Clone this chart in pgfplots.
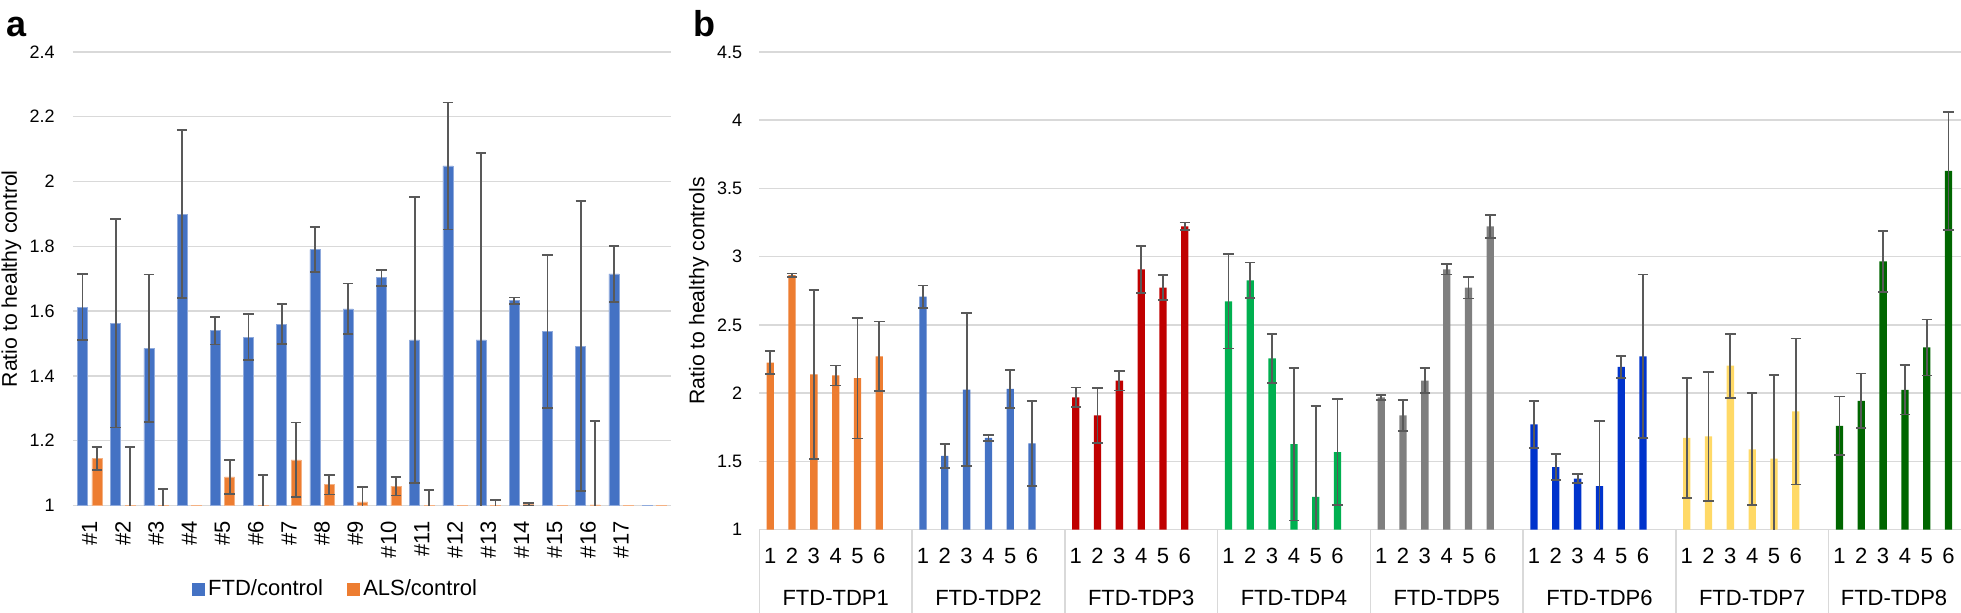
\documentclass[border=0pt]{standalone}
\usepackage{fontspec}
\setmainfont{Liberation Sans}
\usepackage{pgfplots}
\pgfplotsset{compat=1.18}
\definecolor{ftdblue}{HTML}{4472C4}
\definecolor{alsorange}{HTML}{ED7D31}
\definecolor{tdpred}{HTML}{C00000}
\definecolor{tdpgreen}{HTML}{00B050}
\definecolor{tdpgray}{HTML}{7F7F7F}
\definecolor{tdpblue}{HTML}{0033CC}
\definecolor{tdpyellow}{HTML}{FFD966}
\definecolor{tdpdkgreen}{HTML}{006600}
\definecolor{gridgray}{HTML}{D9D9D9}
\definecolor{errgray}{HTML}{595959}
\pgfplotsset{
  errstyle/.style={
    error bars/y dir=both,
    error bars/y explicit,
    error bars/error bar style={errgray, line width=0.9pt},
    error bars/error mark options={rotate=90, errgray, mark size=2.6pt, line width=0.9pt}},
  common/.style={
    scale only axis,
    axis x line*=bottom, axis y line*=left,
    y axis line style={draw=none},
    x axis line style={gridgray, line width=0.75pt},
    ymajorgrids, grid style={gridgray, line width=0.75pt},
    major tick length=0pt,
    /pgf/number format/assume math mode=true,
    yticklabel style={font=\fontsize{9}{11}\selectfont, anchor=east, inner sep=0pt},
  },
}
\begin{document}
\begin{tikzpicture}
% ---------------- panel a ----------------
\begin{axis}[common,
  at={(36.5pt,53.25pt)}, anchor=south west,
  width=299pt, height=226.8pt,
  xmin=0.5, xmax=18.5, ymin=1, ymax=2.4,
  ytick={1,1.2,1.4,1.6,1.8,2,2.2,2.4},
  yticklabel style={xshift=-9pt},
  xtick={1,...,17},
  xticklabels={\#1,\#2,\#3,\#4,\#5,\#6,\#7,\#8,\#9,\#10,\#11,\#12,\#13,\#14,\#15,\#16,\#17},
  xticklabel style={yshift=-7.75pt, rotate=90, anchor=east, inner sep=0pt, font=\fontsize{11}{13}\selectfont},
  ylabel={Ratio to healthy control},
  every axis y label/.style={at={(axis description cs:0,0.5)}, xshift=-30.8pt, rotate=90, anchor=center, font=\fontsize{10.6}{12}\selectfont},
  legend columns=2,
  legend style={at={(axis description cs:0.4406,-0.185)}, anchor=center, draw=none, fill=none,
    font=\fontsize{11}{13}\selectfont, /tikz/every even column/.append style={column sep=10pt}},
]
\addplot[ybar, bar width=5pt, bar shift=0pt, fill=ftdblue, draw=ftdblue!60!white, line width=0.3pt, errstyle,
  legend image code/.code={\fill[ftdblue] (0pt,-2.9pt) rectangle (5.8pt,2.9pt);}]
 coordinates {
 (0.7833,1.612) +- (0,0.102)
 (1.7833,1.563) +- (0,0.322)
 (2.7833,1.485) +- (0,0.228)
 (3.7833,1.899) +- (0,0.259)
 (4.7833,1.540) +- (0,0.043)
 (5.7833,1.520) +- (0,0.071)
 (6.7833,1.560) +- (0,0.062)
 (7.7833,1.790) +- (0,0.070)
 (8.7833,1.607) +- (0,0.078)
 (9.7833,1.703) +- (0,0.025)
 (10.7833,1.511) +- (0,0.442)
 (11.7833,2.048) +- (0,0.196)
 (12.7833,1.511) +- (0,0.577)
 (13.7833,1.632) +- (0,0.010)
 (14.7833,1.537) +- (0,0.237)
 (15.7833,1.492) +- (0,0.447)
 (16.7833,1.715) +- (0,0.086)
 (17.7833,0.995) +- (0,0)
 };
\addlegendentry{FTD/control}
\addplot[ybar, bar width=5pt, bar shift=0pt, fill=alsorange, draw=alsorange!60!white, line width=0.3pt, errstyle,
  legend image code/.code={\fill[alsorange] (0pt,-2.9pt) rectangle (5.8pt,2.9pt);}]
 coordinates {
 (1.2167,1.145) +- (0,0.036)
 (2.2167,0.995) +- (0,0.186)
 (3.2167,0.995) +- (0,0.056)
 (4.2167,0.995) +- (0,0)
 (5.2167,1.088) +- (0,0.053)
 (6.2167,0.995) +- (0,0.098)
 (7.2167,1.141) +- (0,0.115)
 (8.2167,1.064) +- (0,0.030)
 (9.2167,1.011) +- (0,0.047)
 (10.2167,1.060) +- (0,0.029)
 (11.2167,0.995) +- (0,0.053)
 (12.2167,0.995) +- (0,0)
 (13.2167,0.998) +- (0,0.019)
 (14.2167,1.003) +- (0,0.004)
 (15.2167,0.995) +- (0,0)
 (16.2167,1.002) +- (0,0.260)
 (17.2167,0.995) +- (0,0)
 (18.2167,0.995) +- (0,0)
 };
\addlegendentry{ALS/control}
\end{axis}
% ---------------- panel b ----------------
\begin{axis}[common,
  at={(379.65pt,41.15pt)}, anchor=south west,
  width=600.85pt, height=238.9pt,
  xmin=-0.5, xmax=54.57, ymin=1, ymax=4.5,
  ytick={1,1.5,2,2.5,3,3.5,4,4.5},
  yticklabel style={xshift=-8.4pt},
  xtick={0,...,54},
  xticklabels={1,2,3,4,5,6,,1,2,3,4,5,6,,1,2,3,4,5,6,,1,2,3,4,5,6,,1,2,3,4,5,6,,1,2,3,4,5,6,,1,2,3,4,5,6,,1,2,3,4,5,6},
  xticklabel style={anchor=center, yshift=-13.15pt, font=\fontsize{11}{13}\selectfont},
  minor xtick={-0.5,6.5,13.5,20.5,27.5,34.5,41.5,48.5},
  tick align=outside,
  minor tick length=90pt,
  minor tick style={gridgray, line width=0.75pt},
  extra x ticks={3,10,17,24,31,38,45,51.5},
  extra x tick labels={FTD-TDP1,FTD-TDP2,FTD-TDP3,FTD-TDP4,FTD-TDP5,FTD-TDP6,FTD-TDP7,FTD-TDP8},
  extra x tick style={major tick length=0pt, xticklabel style={yshift=-21pt}},
  ylabel={Ratio to healthy controls},
  every axis y label/.style={at={(axis description cs:0,0.5)}, xshift=-30.15pt, rotate=90, anchor=center, font=\fontsize{10.6}{12}\selectfont},
]
\addplot[ybar, bar width=3.65pt, bar shift=0pt, fill=alsorange, draw=none, errstyle] coordinates {
 (0,2.224) +- (0,0.083) (1,2.864) +- (0,0.013) (2,2.138) +- (0,0.619)
 (3,2.130) +- (0,0.073) (4,2.110) +- (0,0.442) (5,2.270) +- (0,0.255) };
\addplot[ybar, bar width=3.65pt, bar shift=0pt, fill=ftdblue, draw=none, errstyle] coordinates {
 (7,2.707) +- (0,0.082) (8,1.540) +- (0,0.086) (9,2.027) +- (0,0.562)
 (10,1.672) +- (0,0.020) (11,2.032) +- (0,0.140) (12,1.632) +- (0,0.312) };
\addplot[ybar, bar width=3.65pt, bar shift=0pt, fill=tdpred, draw=none, errstyle] coordinates {
 (14,1.969) +- (0,0.072) (15,1.838) +- (0,0.202) (16,2.092) +- (0,0.072)
 (17,2.907) +- (0,0.172) (18,2.773) +- (0,0.090) (19,3.222) +- (0,0.029) };
\addplot[ybar, bar width=3.65pt, bar shift=0pt, fill=tdpgreen, draw=none, errstyle] coordinates {
 (21,2.673) +- (0,0.345) (22,2.827) +- (0,0.130) (23,2.255) +- (0,0.178)
 (24,1.626) +- (0,0.559) (25,1.240) +- (0,0.666) (26,1.569) +- (0,0.388) };
\addplot[ybar, bar width=3.65pt, bar shift=0pt, fill=tdpgray, draw=none, errstyle] coordinates {
 (28,1.969) +- (0,0.017) (29,1.838) +- (0,0.115) (30,2.092) +- (0,0.092)
 (31,2.907) +- (0,0.037) (32,2.773) +- (0,0.080) (33,3.222) +- (0,0.086) };
\addplot[ybar, bar width=3.65pt, bar shift=0pt, fill=tdpblue, draw=none, errstyle] coordinates {
 (35,1.772) +- (0,0.172) (36,1.458) +- (0,0.095) (37,1.375) +- (0,0.035)
 (38,1.320) +- (0,0.475) (39,2.192) +- (0,0.083) (40,2.270) +- (0,0.600) };
\addplot[ybar, bar width=3.65pt, bar shift=0pt, fill=tdpyellow, draw=none, errstyle] coordinates {
 (42,1.672) +- (0,0.437) (43,1.683) +- (0,0.470) (44,2.201) +- (0,0.235)
 (45,1.589) +- (0,0.410) (46,1.520) +- (0,0.615) (47,1.866) +- (0,0.535) };
\addplot[ybar, bar width=3.65pt, bar shift=0pt, fill=tdpdkgreen, draw=none, errstyle] coordinates {
 (49,1.761) +- (0,0.215) (50,1.944) +- (0,0.200) (51,2.965) +- (0,0.224)
 (52,2.024) +- (0,0.180) (53,2.335) +- (0,0.205) (54,3.628) +- (0,0.430) };
\end{axis}
\node[anchor=base west, inner sep=0pt, font=\bfseries\fontsize{18}{18}\selectfont] at (3.0pt,287.5pt) {a};
\node[anchor=base west, inner sep=0pt, font=\bfseries\fontsize{18}{18}\selectfont] at (346.5pt,287.5pt) {b};
\pgfresetboundingbox
\useasboundingbox (0pt,0pt) rectangle (980.5pt,306pt);
\end{tikzpicture}
\end{document}
